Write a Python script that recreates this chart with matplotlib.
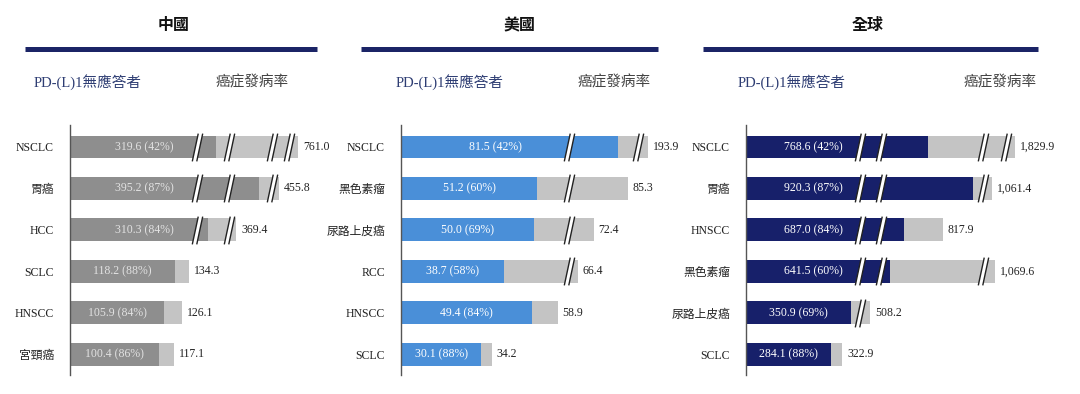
"""PD-(L)1 non-responders vs cancer incidence, three broken-bar panels"""

import numpy as np
import matplotlib
matplotlib.use('Agg')
import matplotlib.pyplot as plt
from matplotlib.path import Path
from matplotlib.lines import Line2D

plt.rcParams['font.family'] = ['Liberation Serif', 'Noto Sans CJK TC', 'DejaVu Sans']

# ---- data (thousands of patients) ----
china_cats = ['NSCLC', '胃癌', 'HCC', 'SCLC', 'HNSCC', '宮頸癌']
china_resp = [319.6, 395.2, 310.3, 118.2, 105.9, 100.4]
china_pct = [42, 87, 84, 88, 84, 86]
china_total = [761.0, 455.8, 369.4, 134.3, 126.1, 117.1]

us_cats = ['NSCLC', '黑色素瘤', '尿路上皮癌', 'RCC', 'HNSCC', 'SCLC']
us_resp = [81.5, 51.2, 50.0, 38.7, 49.4, 30.1]
us_pct = [42, 60, 69, 58, 84, 88]
us_total = [193.9, 85.3, 72.4, 66.4, 58.9, 34.2]

glob_cats = ['NSCLC', '胃癌', 'HNSCC', '黑色素瘤', '尿路上皮癌', 'SCLC']
glob_resp = [768.6, 920.3, 687.0, 641.5, 350.9, 284.1]
glob_pct = [42, 87, 84, 60, 69, 88]
glob_total = [1829.9, 1061.4, 817.9, 1069.6, 508.2, 322.9]

titles = ['中國', '美國', '全球']
sub_left = 'PD-(L)1無應答者'
sub_right = '癌症發病率'

# axis breaks (value ranges cut out of each panel's x axis)
china_breaks = [(143, 298), (334, 361), (409, 448), (468, 751)]
us_breaks = [(63, 63), (89, 190)]
glob_breaks = [(382, 475), (545, 611), (954, 1031), (1107, 1801)]

NAVY = '#1b2466'
W, H = 1080, 394


def broken_funcs(breaks):
    """forward/inverse for an axis with value ranges removed"""
    breaks = sorted(breaks)
    disp_pos = []
    removed = 0.0
    for s, e in breaks:
        disp_pos.append(s - removed)
        removed += e - s

    def fwd(v):
        v = np.asarray(v, dtype=float)
        out = v.copy()
        for s, e in breaks:
            out = out - np.clip(v - s, 0, e - s)
        return out

    def inv(d):
        d = np.asarray(d, dtype=float)
        out = d.copy()
        for (s, e), ds in zip(breaks, disp_pos):
            out = out + np.where(d > ds, e - s, 0)
        return out

    return fwd, inv


# break marker: white slanted gap with two dark slashes
w_, s_ = 4.5 / 14, 6 / 14
lb, lt = (-w_ / 2 - s_ / 2, -1), (-w_ / 2 + s_ / 2, 1)
rb, rt = (w_ / 2 - s_ / 2, -1), (w_ / 2 + s_ / 2, 1)
gap_path = Path([lb, lt, rt, rb, lb], [Path.MOVETO, Path.LINETO, Path.LINETO, Path.LINETO, Path.CLOSEPOLY])
slash_path = Path([lb, lt, rb, rt], [Path.MOVETO, Path.LINETO, Path.MOVETO, Path.LINETO])


def draw_panel(fig, left_px, width_px, px_per_unit, cats, resp, pct, total, breaks,
               dark, light, inner_color):
    ax = fig.add_axes([left_px / W, 19 / H, width_px / W, 250 / H])
    ax.patch.set_visible(False)
    fwd, inv = broken_funcs(breaks)
    ax.set_xscale('function', functions=(fwd, inv))
    ax.set_xlim(0, float(inv(width_px / px_per_unit)))
    ax.set_ylim(5.5, -0.53)

    y = np.arange(len(cats))
    resp = np.array(resp)
    total = np.array(total)
    ax.barh(y, resp, height=0.55, color=dark, edgecolor='none', zorder=1)
    ax.barh(y, total - resp, left=resp, height=0.55, color=light, edgecolor='none', zorder=1)

    for yi, r, p, t in zip(y, resp, pct, total):
        crossed = [s for s, e in breaks if s < r]
        if crossed:
            # keep the label clear of the break marks
            xc, dx = float(inv(fwd(min(crossed)) / 2)), 7.5
        else:
            xc, dx = float(inv(fwd(r) / 2)), 0
        ax.annotate(f'{r:.1f} ({p}%)', (xc, yi), xytext=(dx, 0), textcoords='offset points',
                    ha='center', va='center', color=inner_color, fontsize=8.5, zorder=4)
        ax.annotate(f'{t:,.1f}', (t, yi), xytext=(3.5, 0), textcoords='offset points',
                    ha='left', va='center', fontsize=8.5, color='#222222')
        for s, e in breaks:
            if t > s:
                ax.plot([s], [yi], ls='none', marker=gap_path, ms=20, mfc='white',
                        mec='white', mew=0, zorder=3)
                ax.plot([s], [yi], ls='none', marker=slash_path, ms=20, mfc='none',
                        mec='#222222', mew=1.0, zorder=3)

    ax.set_yticks(y)
    ax.set_yticklabels(cats, fontsize=8.5, color='#222222')
    ax.tick_params(axis='y', length=0, pad=11.5)
    ax.set_xticks([])
    for side in ['top', 'right', 'bottom']:
        ax.spines[side].set_visible(False)
    ax.spines['left'].set_color('#555555')
    ax.spines['left'].set_linewidth(1.0)
    return ax


fig = plt.figure(figsize=(W / 100, H / 100), dpi=100)
fig.patch.set_facecolor('white')

draw_panel(fig, 70, 260, 0.888, china_cats, china_resp, china_pct, china_total,
           china_breaks, '#8e8e8e', '#c4c4c4', '#e2e2e2')
draw_panel(fig, 401, 255, 2.66, us_cats, us_resp, us_pct, us_total,
           us_breaks, '#4a8fd8', '#c4c4c4', 'white')
draw_panel(fig, 746, 324, 0.2985, glob_cats, glob_resp, glob_pct, glob_total,
           glob_breaks, '#17206a', '#c4c4c4', 'white')

# headers
title_x = [174, 520, 868]
line_span = [(25, 317), (361, 658), (703, 1038)]
sub_x = [(88, 252), (450, 614), (792, 1000)]
for t, tx, (x0, x1), (sl, sr) in zip(titles, title_x, line_span, sub_x):
    fig.text(tx / W, 1 - 25 / H, t, ha='center', va='center', fontsize=11.5,
             family=['Noto Sans CJK TC'], weight='bold', color='#111111')
    fig.add_artist(Line2D([x0 / W, x1 / W], [1 - 49 / H, 1 - 49 / H],
                          transform=fig.transFigure, color=NAVY, lw=3.6,
                          solid_capstyle='butt'))
    fig.text(sl / W, 1 - 82 / H, sub_left, ha='center', va='center', fontsize=10.5,
             color='#2e3d73')
    fig.text(sr / W, 1 - 82 / H, sub_right, ha='center', va='center', fontsize=10.5,
             color='#444444')

fig.savefig('out.png', dpi=100, facecolor='white')
